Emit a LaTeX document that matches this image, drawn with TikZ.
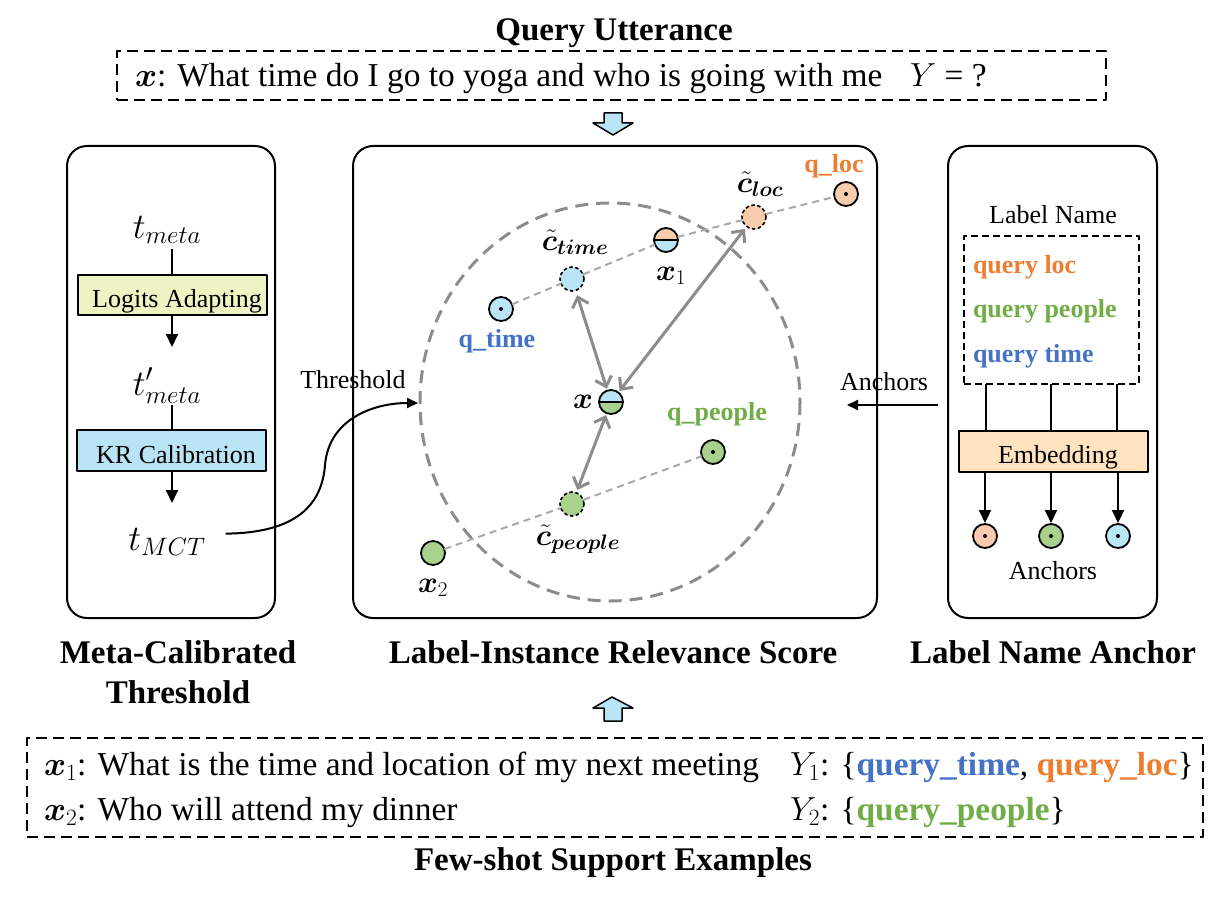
\RequirePackage{fix-cm}
\documentclass[tikz,border=0pt]{standalone}
\usepackage{amsmath}
\usepackage{bm}
\usepackage{fontspec}
\setmainfont{Liberation Serif}
\usetikzlibrary{arrows.meta}
\definecolor{cpeach}{HTML}{F8CBAD}
\definecolor{clblue}{HTML}{BAE5F6}
\definecolor{cgreen}{HTML}{A9D18E}
\definecolor{torange}{HTML}{ED7D31}
\definecolor{tgreen}{HTML}{70AD47}
\definecolor{tblue}{HTML}{4472C4}
\definecolor{cyel}{HTML}{EEF3C4}
\definecolor{ckr}{HTML}{B9E4F5}
\definecolor{cemb}{HTML}{FFE3BF}
\definecolor{egray}{HTML}{8C8C8C}
\definecolor{lgray}{HTML}{A8A8A8}
\newcommand{\fsTitle}{\fontsize{33}{40}\selectfont\bfseries}
\newcommand{\fsMain}{\fontsize{33.4}{40}\selectfont}
\newcommand{\fsLab}{\fontsize{26}{31}\selectfont}
\newcommand{\fsMath}{\fontsize{30}{36}\selectfont}
\newcommand{\fsLeft}{\fontsize{36}{42}\selectfont}
\begin{document}
\begin{tikzpicture}[x=1pt,y=-1pt,line join=round,
  every node/.style={inner sep=0pt,outer sep=0pt},
  panel/.style={draw,line width=2,rounded corners=20},
  dbox/.style={draw,line width=2.5,dash pattern=on 11 off 6},
  fbox/.style={draw,line width=2.5},
  boxtext/.style={anchor=base,font=\fsLab},
  conn/.style={line width=2},
  arr/.style={line width=2,-{Triangle[length=13,width=12]}},
  dotc/.style={circle,draw,line width=1.8,minimum size=24,fill=#1,
    path picture={\fill[black] (path picture bounding box.center) circle (2);}},
  dashc/.style={circle,draw,line width=1.6,dash pattern=on 3.5 off 2.5,minimum size=24,fill=#1},
  halfc/.style 2 args={circle,draw,line width=1.8,minimum size=24,
    path picture={\fill[#1] (path picture bounding box.north west) rectangle (path picture bounding box.east);
      \fill[#2] (path picture bounding box.west) rectangle (path picture bounding box.south east);
      \draw[line width=1.8] (path picture bounding box.west) -- (path picture bounding box.east);}},
  ltline/.style={draw=lgray,line width=2,dash pattern=on 7 off 5},
  garr/.style={draw=egray,line width=3,{Straight Barb[length=9,width=17]}-{Straight Barb[length=9,width=17]}},
  mlab/.style={anchor=base,font=\fsMath},
  tlab/.style={anchor=base,font=\fsLab\bfseries}]
\useasboundingbox (0,0) rectangle (1214,896);

% ---------- top: query utterance ----------
\node[anchor=base,font=\fsTitle] (qtitle) at (614,41) {Query Utterance};
\node[dbox,minimum width=989,minimum height=49] (qbox) at (611.5,75.5) {};
\node[anchor=base west,font=\fsMain] (qtext) at (135,87) {$\bm{x}$: What time do I go to yoga and who is going with me};
\node[anchor=base west,font=\fsMain] (qy) at (910,87) {$Y$ = ?};
\filldraw[fill=clblue,line width=1.5] (604,113) -- (622,113) -- (622,123) -- (633,123) -- (613,135) -- (593,123) -- (604,123) -- cycle;

% ---------- panels ----------
\node[panel,minimum width=208,minimum height=472] (lpanel) at (171,382) {};
\node[panel,minimum width=524,minimum height=472] (cpanel) at (615,382) {};
\node[panel,minimum width=209,minimum height=472] (rpanel) at (1052.5,382) {};

% ---------- left panel ----------
\node[anchor=base,font=\fsLeft] (tmeta) at (167,238) {$t_{meta}$};
\node[fbox,fill=cyel,minimum width=189,minimum height=40] (logits) at (172.5,295) {};
\node[boxtext] (logitst) at (177,307) {Logits Adapting};
\node[anchor=base,font=\fsLeft] (tprime) at (167,395) {$t'_{meta}$};
\node[fbox,fill=ckr,minimum width=189,minimum height=41] (kr) at (171.5,450.5) {};
\node[boxtext] (krt) at (176,463) {KR Calibration};
\node[anchor=base,font=\fsLeft] (tmct) at (167,550) {$t_{MCT}$};
\coordinate (l1) at (172,249);
\coordinate (l2) at (172,347);
\coordinate (l3) at (172,405);
\coordinate (l4) at (172,503);
\draw[conn] (l1) -- (logits.north -| l1);
\draw[arr] (logits.south -| l2) -- (l2);
\draw[conn] (l3) -- (kr.north -| l3);
\draw[arr] (kr.south -| l4) -- (l4);

% ---------- centre panel ----------
\draw[draw=egray,line width=3,dash pattern=on 13 off 8] (610,402) ellipse [x radius=190,y radius=199];
\node[dotc=cpeach] (qloc) at (846,194) {};
\node[dashc=cpeach] (cloc) at (754,217) {};
\node[halfc={cpeach}{clblue}] (x1) at (666,240) {};
\node[dashc=clblue] (ctime) at (572,279) {};
\node[dotc=clblue] (qtime) at (501,309) {};
\node[halfc={clblue}{cgreen}] (xq) at (611,402) {};
\node[dotc=cgreen] (qpeople) at (713,452) {};
\node[dashc=cgreen] (cpeople) at (572,504) {};
\node[circle,draw,line width=1.8,minimum size=24,fill=cgreen] (x2) at (433,553) {};

\draw[ltline] (qtime) -- (ctime);
\draw[ltline] (ctime) -- (x1);
\draw[ltline] (x1) -- (cloc);
\draw[ltline] (cloc) -- (qloc);
\draw[ltline] (x2) -- (cpeople);
\draw[ltline] (cpeople) -- (qpeople);

\draw[garr,shorten <=5,shorten >=2] (ctime) -- (xq);
\draw[garr,shorten <=3,shorten >=2] (cloc) -- (xq);
\draw[garr,shorten <=3,shorten >=2] (cpeople) -- (xq);

\node[tlab,text=torange] (lqloc) at (834,172) {q\_loc};
\node[mlab] (lcloc) at (760,192) {$\bm{\tilde{c}_{loc}}$};
\node[mlab] (lx1) at (671,280) {$\bm{x}_1$};
\node[mlab] (lctime) at (575,250) {$\bm{\tilde{c}_{time}}$};
\node[tlab,text=tblue] (lqtime) at (497,347) {q\_time};
\node[mlab] (lxq) at (583,408) {$\bm{x}$};
\node[tlab,text=tgreen] (lqpeople) at (717,420) {q\_people};
\node[mlab] (lcpeople) at (578,545) {$\bm{\tilde{c}_{people}}$};
\node[mlab] (lx2) at (433,592) {$\bm{x}_2$};

% threshold connector
\node[anchor=base,font=\fsLab] (thrlab) at (353,388) {Threshold};
\coordinate (thr) at (418,403);
\draw[line width=2,-{Triangle[length=11,width=10]}] ([shift={(20,-8)}]tmct.east) .. controls (296,533) and (322,505) .. (325,465) .. controls (329,418) and (375,403) .. (thr);

% anchors connector
\node[anchor=base west,font=\fsLab] (anclab) at (840,390) {Anchors};
\coordinate (ancs) at (938,405);
\coordinate (ance) at (847,405);
\draw[arr,-{Triangle[length=11,width=10]}] (ancs) -- (ance);

% ---------- right panel ----------
\node[anchor=base,font=\fsLab] (lname) at (1053,223) {Label Name};
\node[draw,line width=1.6,dash pattern=on 7 off 4,minimum width=175,minimum height=148] (lnbox) at (1051.5,310) {};
\node[anchor=base west,font=\fsLab\bfseries,text=torange] (n1) at (973,273) {query loc};
\node[anchor=base west,font=\fsLab\bfseries,text=tgreen] (n2) at (973,317) {query people};
\node[anchor=base west,font=\fsLab\bfseries,text=tblue] (n3) at (973,362) {query time};
\node[fbox,fill=cemb,minimum width=189,minimum height=41] (embed) at (1053.5,451.5) {};
\node[boxtext] (embedt) at (1058,463) {Embedding};
\node[dotc=cpeach] (a1) at (985,536) {};
\node[dotc=cgreen] (a2) at (1051,536) {};
\node[dotc=clblue] (a3) at (1118,536) {};
\coordinate (v1) at (986,0);
\coordinate (v2) at (1051,0);
\coordinate (v3) at (1117,0);
\draw[conn] (lnbox.south -| v1) -- (embed.north -| v1);
\draw[conn] (lnbox.south -| v2) -- (embed.north -| v2);
\draw[conn] (lnbox.south -| v3) -- (embed.north -| v3);
\draw[arr,shorten >=1] (embed.south -| a1) -- (a1);
\draw[arr,shorten >=1] (embed.south -| a2) -- (a2);
\draw[arr,shorten >=1] (embed.south -| a3) -- (a3);
\node[anchor=base,font=\fsLab] (anclab2) at (1053,579) {Anchors};

% ---------- titles ----------
\node[anchor=base,font=\fsTitle] (t1a) at (178,663) {Meta-Calibrated};
\node[anchor=base,font=\fsTitle] (t1b) at (178,703) {Threshold};
\node[anchor=base,font=\fsTitle] (t2) at (613,663) {Label-Instance Relevance Score};
\node[anchor=base,font=\fsTitle] (t3) at (1053,663) {Label Name Anchor};

% ---------- bottom: support examples ----------
\filldraw[fill=clblue,line width=1.5] (604,721) -- (622,721) -- (622,708) -- (633,708) -- (612,697) -- (593,708) -- (604,708) -- cycle;
\node[dbox,minimum width=1176,minimum height=99] (sbox) at (615,787.5) {};
\node[anchor=base west,font=\fsMain] (s1) at (44,775) {$\bm{x}_1$: What is the time and location of my next meeting};
\node[anchor=base west,font=\fsMain] (s2) at (44,820) {$\bm{x}_2$: Who will attend my dinner};
\node[anchor=base west,font=\fsMain] (y1) at (790,775) {$Y_1$: \{\textbf{\color{tblue}query\_time}, \textbf{\color{torange}query\_loc}\}};
\node[anchor=base west,font=\fsMain] (y2) at (790,820) {$Y_2$: \{\textbf{\color{tgreen}query\_people}\}};
\node[anchor=base,font=\fsTitle] (stitle) at (613,870) {Few-shot Support Examples};
\end{tikzpicture}
\end{document}
